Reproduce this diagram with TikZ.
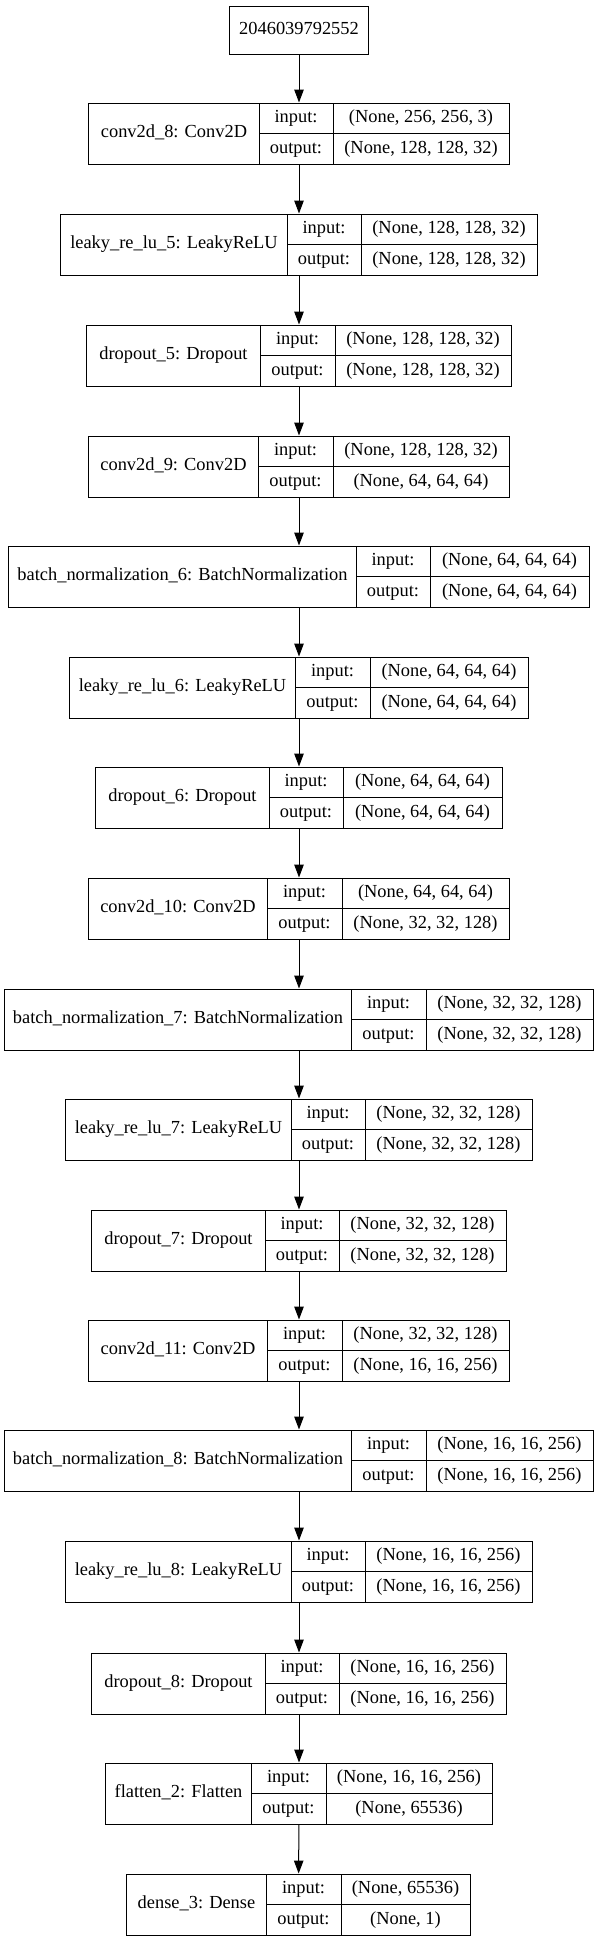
\documentclass[tikz,border=0pt]{standalone}
\usepackage{fontspec}
\setmainfont{Liberation Serif}
\usetikzlibrary{arrows.meta}

\tikzset{
  layer/.style={draw, line width=1bp, inner sep=0pt},
  cell/.style={inner sep=0pt, text height=12.5bp, text depth=4bp,
               font=\fontsize{18.4bp}{22bp}\selectfont},
  flow/.style={line width=1bp, -{Triangle[length=13bp, width=9.5bp]}}
}

\begin{document}
\begin{tikzpicture}[x=1bp, y=-1bp]
  \fill[white] (0,0) rectangle (599,1941);
  \useasboundingbox (0,0) rectangle (599,1941);

  % Input node:
  \node[layer, cell, minimum width=139bp, minimum height=48bp] (input) at (299,30) {2046039792552};

  % Layers: name/top/left/split1/split2/right/label/input shape/output shape
  \foreach \nm/\yt/\xl/\xa/\xb/\xr/\lbl/\shin/\shout in {
      conv8/103/89/259/333/509/{conv2d\_8: Conv2D}/{(None, 256, 256, 3)}/{(None, 128, 128, 32)},
      leaky5/214/61/287/361/537/{leaky\_re\_lu\_5: LeakyReLU}/{(None, 128, 128, 32)}/{(None, 128, 128, 32)},
      drop5/325/87/260/335/511/{dropout\_5: Dropout}/{(None, 128, 128, 32)}/{(None, 128, 128, 32)},
      conv9/436/89/258/333/509/{conv2d\_9: Conv2D}/{(None, 128, 128, 32)}/{(None, 64, 64, 64)},
      bn6/546/9/356/430/589/{batch\_normalization\_6: BatchNormalization}/{(None, 64, 64, 64)}/{(None, 64, 64, 64)},
      leaky6/657/70/295/370/528/{leaky\_re\_lu\_6: LeakyReLU}/{(None, 64, 64, 64)}/{(None, 64, 64, 64)},
      drop6/767/96/269/343/502/{dropout\_6: Dropout}/{(None, 64, 64, 64)}/{(None, 64, 64, 64)},
      conv10/878/89/267/342/509/{conv2d\_10: Conv2D}/{(None, 64, 64, 64)}/{(None, 32, 32, 128)},
      bn7/989/5/351/426/593/{batch\_normalization\_7: BatchNormalization}/{(None, 32, 32, 128)}/{(None, 32, 32, 128)},
      leaky7/1099/66/291/365/532/{leaky\_re\_lu\_7: LeakyReLU}/{(None, 32, 32, 128)}/{(None, 32, 32, 128)},
      drop7/1210/92/265/339/506/{dropout\_7: Dropout}/{(None, 32, 32, 128)}/{(None, 32, 32, 128)},
      conv11/1320/89/267/342/509/{conv2d\_11: Conv2D}/{(None, 32, 32, 128)}/{(None, 16, 16, 256)},
      bn8/1430/5/351/426/593/{batch\_normalization\_8: BatchNormalization}/{(None, 16, 16, 256)}/{(None, 16, 16, 256)},
      leaky8/1541/66/291/365/532/{leaky\_re\_lu\_8: LeakyReLU}/{(None, 16, 16, 256)}/{(None, 16, 16, 256)},
      drop8/1653/92/265/339/506/{dropout\_8: Dropout}/{(None, 16, 16, 256)}/{(None, 16, 16, 256)},
      flat2/1763/106/251/326/492/{flatten\_2: Flatten}/{(None, 16, 16, 256)}/{(None, 65536)},
      dense3/1874/127/266/341/470/{dense\_3: Dense}/{(None, 65536)}/{(None, 1)}}
  {
    \node[layer, minimum width={\xr bp-\xl bp}, minimum height=61bp] (\nm) at ({(\xl+\xr)/2},{\yt+30.5}) {};
    \draw[line width=1bp] (\xa,\yt) -- ++(0,61);
    \draw[line width=1bp] (\xb,\yt) -- ++(0,61);
    \draw[line width=1bp] (\xa,\yt) ++(0,30.5) -- ++({\xr-\xa},0);
    \node[cell] (\nm-lbl) at ({(\xl+\xa)/2},{\yt+30.5}) {\lbl};
    \node[cell] (\nm-in) at ({(\xa+\xb)/2},{\yt+15.25}) {input:};
    \node[cell] (\nm-out) at ({(\xa+\xb)/2},{\yt+45.75}) {output:};
    \node[cell] (\nm-ishape) at ({(\xb+\xr)/2},{\yt+15.25}) {\shin};
    \node[cell] (\nm-oshape) at ({(\xb+\xr)/2},{\yt+45.75}) {\shout};
  }

  % Connections:
  \foreach \u/\v in {input/conv8, conv8/leaky5, leaky5/drop5, drop5/conv9, conv9/bn6,
      bn6/leaky6, leaky6/drop6, drop6/conv10, conv10/bn7, bn7/leaky7, leaky7/drop7,
      drop7/conv11, conv11/bn8, bn8/leaky8, leaky8/drop8, drop8/flat2, flat2/dense3}
    \draw[flow] (\u) -- (\v);
\end{tikzpicture}
\end{document}
